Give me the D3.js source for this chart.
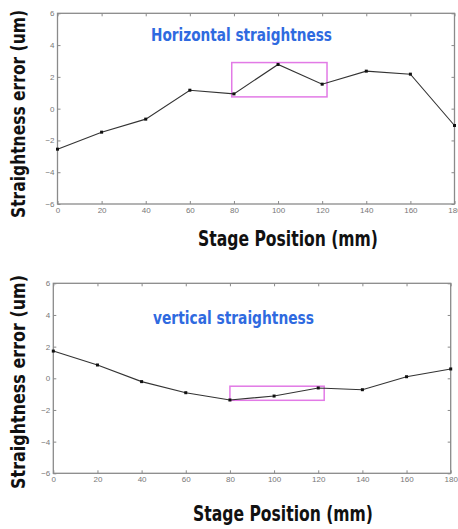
<!DOCTYPE html>
<html>
<head>
<meta charset="utf-8">
<script src="https://cdn.jsdelivr.net/npm/d3@7"></script>
<style>
  body { margin: 0; background: #fff; }
  svg { display: block; }
</style>
</head>
<body>
<script>
// DATA
const positions = [0, 20, 40, 60, 80, 100, 120, 140, 160, 180];
const horizontalError = [-2.55, -1.48, -0.66, 1.16, 0.93, 2.78, 1.54, 2.36, 2.17, -1.06];
const verticalError = [1.72, 0.84, -0.21, -0.91, -1.37, -1.12, -0.61, -0.72, 0.1, 0.59];
const xTicks = [0, 20, 40, 60, 80, 100, 120, 140, 160, 180];
const yTicks = [-6, -4, -2, 0, 2, 4, 6];
const horizontalBox = [79, 122.2, 0.74, 2.9];
const verticalBox = [80, 122.7, -1.39, -0.5];

const width = 458;
const height = 529;

const svg = d3.select('body')
  .append('svg')
  .attr('width', width)
  .attr('height', height);

const labelFont = '"DejaVu Sans Condensed", "Liberation Sans Narrow", sans-serif';

function drawPanel(opt) {
  const x = d3.scaleLinear().domain([0, 180]).range([opt.left, opt.right]);
  const y = d3.scaleLinear().domain([-6, 6]).range([opt.bottom, opt.top]);
  const g = svg.append('g');

  // frame
  g.append('rect')
    .attr('x', opt.left)
    .attr('y', opt.top)
    .attr('width', opt.right - opt.left)
    .attr('height', opt.bottom - opt.top)
    .attr('fill', 'none')
    .attr('stroke', '#8a8a8a')
    .attr('stroke-width', 1.3);

  // axes, ticks pointing inward like matlab
  const axes = [
    [d3.axisBottom(x).tickValues(xTicks).tickSize(-3), `translate(0,${opt.bottom})`, true],
    [d3.axisTop(x).tickValues(xTicks).tickSize(-3), `translate(0,${opt.top})`, false],
    [d3.axisLeft(y).tickValues(yTicks).tickSize(-3), `translate(${opt.left},0)`, true],
    [d3.axisRight(y).tickValues(yTicks).tickSize(-3), `translate(${opt.right},0)`, false]
  ];
  axes.forEach(([axis, tr, showLabels]) => {
    const a = g.append('g').attr('transform', tr).call(axis.tickPadding(3));
    a.select('.domain').remove();
    a.selectAll('line').attr('stroke', '#8a8a8a');
    a.selectAll('text')
      .attr('fill', '#777')
      .style('font-family', 'Arial, "Liberation Sans", sans-serif')
      .style('font-size', '8px')
      .style('display', showLabels ? null : 'none');
  });

  // magenta box
  const b = opt.box;
  g.append('rect')
    .attr('x', x(b[0]))
    .attr('y', y(b[3]))
    .attr('width', x(b[1]) - x(b[0]))
    .attr('height', y(b[2]) - y(b[3]))
    .attr('fill', 'none')
    .attr('stroke', '#e27ae6')
    .attr('stroke-width', 1.5);

  // line
  const line = d3.line().x((d, i) => x(positions[i])).y(d => y(d));
  g.append('path')
    .datum(opt.values)
    .attr('d', line)
    .attr('fill', 'none')
    .attr('stroke', '#333')
    .attr('stroke-width', 1.1);

  g.selectAll('.pt')
    .data(opt.values)
    .enter()
    .append('rect')
    .attr('class', 'pt')
    .attr('x', (d, i) => x(positions[i]) - 1.5)
    .attr('y', d => y(d) - 1.5)
    .attr('width', 3)
    .attr('height', 3)
    .attr('fill', '#111');

  // title inside plot
  g.append('text')
    .text(opt.title)
    .attr('x', opt.titleX)
    .attr('y', opt.titleY)
    .attr('textLength', opt.titleLen)
    .attr('lengthAdjust', 'spacingAndGlyphs')
    .attr('fill', '#2f6ae0')
    .style('font-family', labelFont)
    .style('font-weight', 'bold')
    .style('font-size', '17px');

  // x label
  g.append('text')
    .text('Stage Position (mm)')
    .attr('x', opt.xLabelX)
    .attr('y', opt.xLabelY)
    .attr('text-anchor', 'middle')
    .attr('textLength', 180)
    .attr('lengthAdjust', 'spacingAndGlyphs')
    .attr('fill', '#111')
    .style('font-family', labelFont)
    .style('font-weight', 'bold')
    .style('font-size', '21px');

  // y label
  g.append('text')
    .text('Straightness error (um)')
    .attr('transform', `translate(25,${opt.yLabelY}) rotate(-90)`)
    .attr('text-anchor', 'middle')
    .attr('textLength', opt.yLabelLen)
    .attr('lengthAdjust', 'spacingAndGlyphs')
    .attr('fill', '#111')
    .style('font-family', labelFont)
    .style('font-weight', 'bold')
    .style('font-size', '20px');
}

drawPanel({
  left: 57.5, right: 454.5, top: 13.3, bottom: 204,
  values: horizontalError,
  box: horizontalBox,
  title: 'Horizontal straightness',
  titleX: 151, titleY: 41, titleLen: 181,
  xLabelX: 288, xLabelY: 246,
  yLabelY: 114, yLabelLen: 208
});

drawPanel({
  left: 53.3, right: 450.7, top: 283.3, bottom: 473.3,
  values: verticalError,
  box: verticalBox,
  title: 'vertical straightness',
  titleX: 153, titleY: 324, titleLen: 161,
  xLabelX: 283, xLabelY: 521,
  yLabelY: 382, yLabelLen: 214
});
</script>
</body>
</html>
